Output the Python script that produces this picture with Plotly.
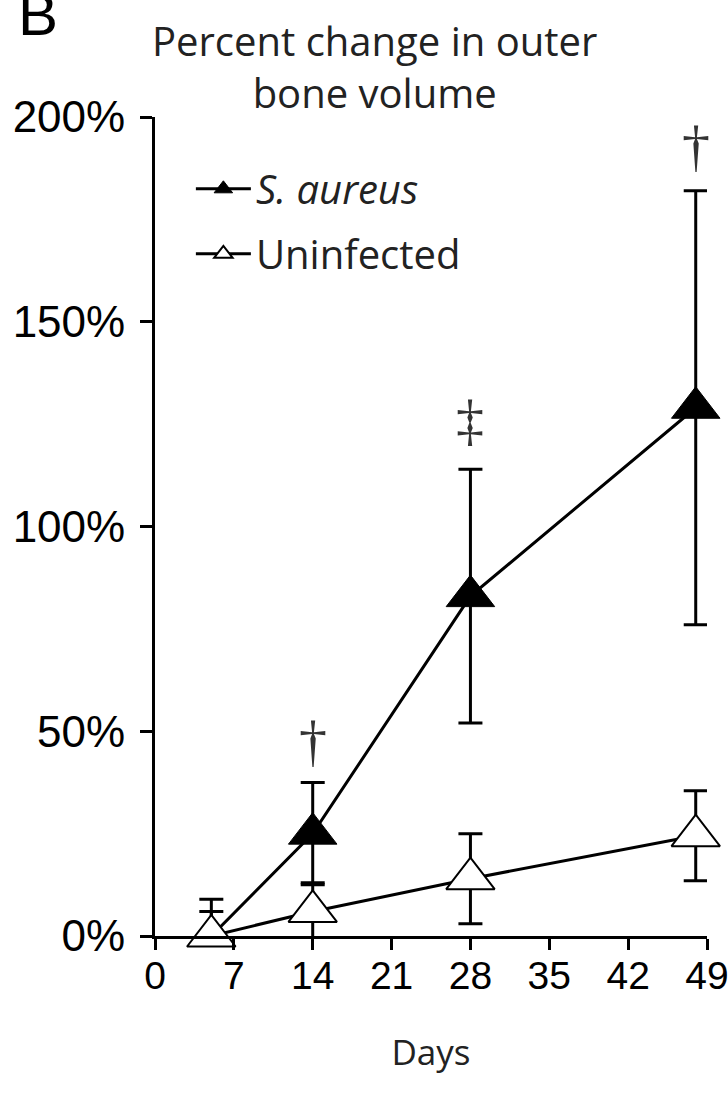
import plotly.graph_objects as go

# ---- data ----
days = [5, 14, 28, 48]
saureus_mean = [0, 25, 83, 129]
saureus_err = [6, 12.5, 31, 53]
uninf_mean = [0, 6, 14, 24.5]
uninf_err = [9, 7, 11, 11]
sig_days = [14, 28, 48]
sig_marks = ["†", "‡", "†"]
sig_top = [37.5, 114, 182]  # top of S. aureus error bar at those days
sig_shift = [8, 16, 12]     # pixel gap above the error bar

x_ticks = [0, 7, 14, 21, 28, 35, 42, 49]
y_ticks = [0, 50, 100, 150, 200]
y_tick_text = ["0%", "50%", "100%", "150%", "200%"]

MYRIAD = "Open Sans, Noto Sans, sans-serif"

fig = go.Figure()

fig.add_trace(go.Scatter(
    x=days, y=saureus_mean, mode="lines+markers", name="<i>S. aureus</i>",
    line=dict(color="black", width=3),
    marker=dict(symbol="triangle-up", size=42, color="black",
                line=dict(color="black", width=1)),
    error_y=dict(type="data", array=saureus_err, visible=True,
                 color="black", thickness=3, width=12),
    legendgroup="a", cliponaxis=False,
))
fig.add_trace(go.Scatter(
    x=days, y=uninf_mean, mode="lines+markers", name="Uninfected",
    line=dict(color="black", width=3),
    marker=dict(symbol="triangle-up", size=42, color="white",
                line=dict(color="black", width=2)),
    error_y=dict(type="data", array=uninf_err, visible=True,
                 color="black", thickness=3, width=12),
    legendgroup="b", cliponaxis=False,
))

annotations = []
for d, m, t, s in zip(sig_days, sig_marks, sig_top, sig_shift):
    annotations.append(dict(
        x=d, y=t, xref="x", yref="y", text=m, showarrow=False,
        yanchor="bottom", yshift=s,
        font=dict(family="Liberation Serif, serif", size=56, color="#333333"),
    ))

annotations.append(dict(
    x=0.397, y=1.062, xref="paper", yref="paper",
    text="Percent change in outer<br>bone volume", showarrow=False,
    font=dict(family=MYRIAD, size=40, color="#222222"),
    align="center", xanchor="center", yanchor="middle",
))
annotations.append(dict(
    x=-0.252, y=1.125, xref="paper", yref="paper", text="B",
    showarrow=False, xanchor="left", yanchor="middle",
    font=dict(family="Liberation Sans, Arial", size=60, color="black"),
))

fig.update_layout(
    width=728, height=1097,
    margin=dict(l=155, r=21, t=117, b=161, autoexpand=False),
    paper_bgcolor="white", plot_bgcolor="white",
    showlegend=True,
    legend=dict(
        x=0.065, y=0.952, xanchor="left", yanchor="top",
        font=dict(family=MYRIAD, size=40, color="#222222"),
        bgcolor="rgba(0,0,0,0)", tracegroupgap=10,
        traceorder="grouped", itemsizing="trace", itemwidth=55,
    ),
    annotations=annotations,
    xaxis=dict(
        range=[0, 49], tickvals=x_ticks, ticktext=[str(v) for v in x_ticks],
        showline=True, linecolor="black", linewidth=3,
        ticks="outside", ticklen=11, tickwidth=3, tickcolor="black",
        showgrid=False, zeroline=False, automargin=False,
        ticklabeloverflow="allow", ticklabelstandoff=-8,
        tickfont=dict(family="Liberation Sans, Arial", size=39, color="black"),
        title=dict(text="Days", font=dict(family=MYRIAD, size=35, color="#222222"),
                   standoff=45),
    ),
    yaxis=dict(
        range=[0, 200], tickvals=y_ticks, ticktext=y_tick_text,
        showline=True, linecolor="black", linewidth=3,
        ticks="outside", ticklen=12, tickwidth=3, tickcolor="black",
        showgrid=False, zeroline=False, automargin=False,
        ticklabeloverflow="allow",
        tickfont=dict(family="Liberation Sans, Arial", size=44, color="black"),
        ticklabelstandoff=6,
    ),
)

fig.write_html("out.html", config={"displayModeBar": False},
               post_script="document.body.style.margin='0px';")
